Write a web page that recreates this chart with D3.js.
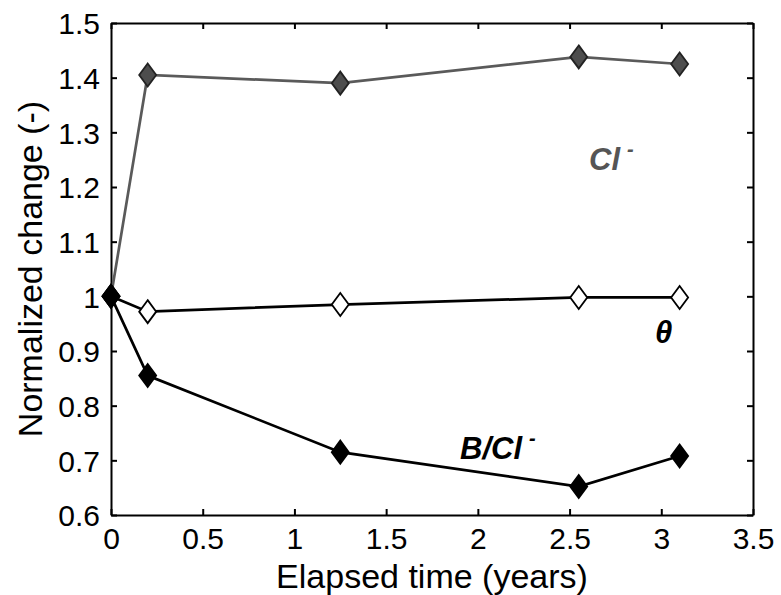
<!DOCTYPE html>
<meta charset="utf-8">
<title>Normalized change</title>
<style>
  body { margin: 0; background: #fff; }
  text { font-family: "Liberation Sans", Arial, sans-serif; }
</style>
<body>
<svg width="781" height="595"></svg>
<script src="https://d3js.org/d3.v7.min.js"></script>
<script>
  // elapsed time of each sampling (years)
  var years = [0, 0.2, 1.25, 2.55, 3.1];
  var clValues = [1.0, 1.405, 1.39, 1.438, 1.425];
  var thetaValues = [1.0, 0.972, 0.985, 0.998, 0.998];
  var bclValues = [1.0, 0.855, 0.715, 0.652, 0.708];

  var xTicks = [0, 0.5, 1, 1.5, 2, 2.5, 3, 3.5];
  var yTicks = [0.6, 0.7, 0.8, 0.9, 1, 1.1, 1.2, 1.3, 1.4, 1.5];

  var svg = d3.select("svg");
  var mLeft = 111, mRight = 753, mTop = 23, mBottom = 515;

  var x = d3.scaleLinear().domain([0, 3.5]).range([mLeft, mRight]);
  var y = d3.scaleLinear().domain([0.6, 1.5]).range([mBottom, mTop]);

  var fmt = function (d) { return String(d); };

  // bottom axis
  var gx = svg.append("g").attr("transform", "translate(0," + mBottom + ")")
    .call(d3.axisBottom(x).tickValues(xTicks).tickFormat(fmt).tickSizeInner(-6).tickSizeOuter(0).tickPadding(13));
  // left axis
  var gy = svg.append("g").attr("transform", "translate(" + mLeft + ",0)")
    .call(d3.axisLeft(y).tickValues(yTicks).tickFormat(fmt).tickSizeInner(-6).tickSizeOuter(0).tickPadding(11));
  // top and right (ticks only)
  var gt = svg.append("g").attr("transform", "translate(0," + mTop + ")")
    .call(d3.axisTop(x).tickValues(xTicks).tickFormat("").tickSizeInner(-6).tickSizeOuter(0));
  var gr = svg.append("g").attr("transform", "translate(" + mRight + ",0)")
    .call(d3.axisRight(y).tickValues(yTicks).tickFormat("").tickSizeInner(-6).tickSizeOuter(0));

  [gx, gy, gt, gr].forEach(function (g) {
    g.attr("font-size", 30).attr("font-family", "Liberation Sans, Arial, sans-serif");
    g.selectAll(".domain").attr("stroke", "#000").attr("stroke-width", 2);
    g.selectAll(".tick line").attr("stroke", "#000").attr("stroke-width", 2);
    g.selectAll(".tick text").attr("fill", "#000");
  });
  gy.selectAll(".tick text").attr("dy", "0.36em");

  var series = [
    { values: clValues, line: "#5a5a5a", fill: "#4d4d4d", stroke: "#222" },
    { values: thetaValues, line: "#000", fill: "#fff", stroke: "#000" },
    { values: bclValues, line: "#000", fill: "#000", stroke: "#000" }
  ];

  var line = d3.line()
    .x(function (d) { return x(d[0]); })
    .y(function (d) { return y(d[1]); });

  // diamond marker (a bit taller than wide)
  var diamond = "M0,-11.5L8.5,0L0,11.5L-8.5,0Z";

  series.forEach(function (s) {
    var pts = years.map(function (t, i) { return [t, s.values[i]]; });
    svg.append("path")
      .datum(pts)
      .attr("d", line)
      .attr("fill", "none")
      .attr("stroke", s.line)
      .attr("stroke-width", 2.7);
  });
  series.forEach(function (s) {
    var pts = years.map(function (t, i) { return [t, s.values[i]]; });
    svg.append("g").selectAll("path")
      .data(pts)
      .enter().append("path")
      .attr("d", diamond)
      .attr("transform", function (d) { return "translate(" + x(d[0]) + "," + y(d[1]) + ")"; })
      .attr("fill", s.fill)
      .attr("stroke", s.stroke)
      .attr("stroke-width", 1.8);
  });

  // series labels
  var cl = svg.append("text").attr("x", 589).attr("y", 170)
    .attr("font-size", 31).attr("font-weight", "bold").attr("font-style", "italic").attr("fill", "#555")
    .text("Cl");
  cl.append("tspan").attr("dx", 7).attr("dy", -14).attr("font-size", 20).text("-");

  svg.append("text").attr("x", 655).attr("y", 343)
    .attr("font-size", 31).attr("font-weight", "bold").attr("font-style", "italic").attr("fill", "#000")
    .text("θ");

  var bcl = svg.append("text").attr("x", 460).attr("y", 459)
    .attr("font-size", 31).attr("font-weight", "bold").attr("font-style", "italic").attr("fill", "#000")
    .text("B/Cl");
  bcl.append("tspan").attr("dx", 7).attr("dy", -14).attr("font-size", 20).text("-");

  // axis titles
  svg.append("text").attr("x", (mLeft + mRight) / 2).attr("y", 588)
    .attr("text-anchor", "middle").attr("font-size", 34).attr("fill", "#000")
    .text("Elapsed time (years)");
  svg.append("text")
    .attr("transform", "translate(42," + ((mTop + mBottom) / 2) + ") rotate(-90)")
    .attr("text-anchor", "middle").attr("font-size", 34).attr("fill", "#000")
    .text("Normalized change (-)");
</script>
</body>
